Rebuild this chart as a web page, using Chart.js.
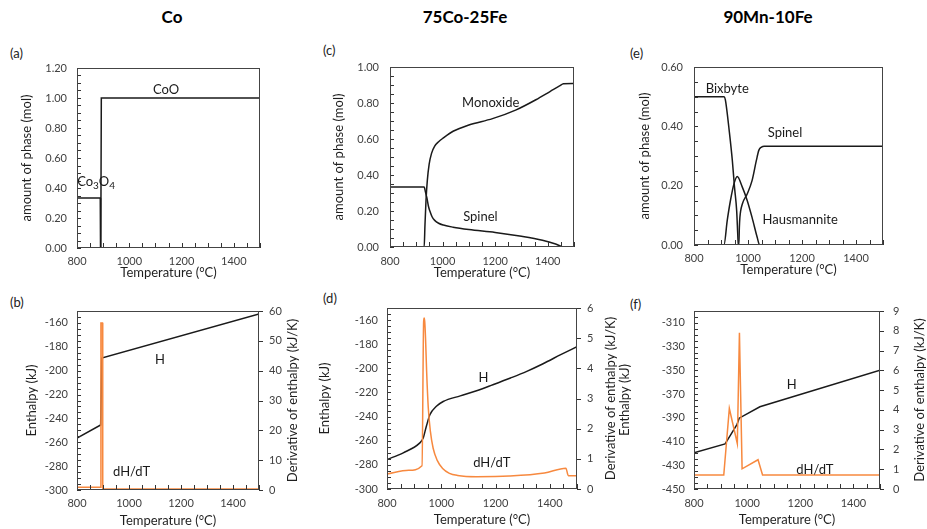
<!DOCTYPE html>
<html>
<head>
<meta charset="utf-8">
<script src="https://cdn.jsdelivr.net/npm/chart.js@4.4.1/dist/chart.umd.min.js"></script>
<style>
  body { margin: 0; background: #fff; width: 927px; height: 529px; position: relative; overflow: hidden; font-family: Lato, sans-serif; }
  canvas { position: absolute; }
  .title { position: absolute; font-weight: bold; font-size: 17px; line-height: 20px; color: #000; transform: translateX(-50%); white-space: nowrap; }
  .tag { position: absolute; font-size: 13px; line-height: 15px; color: #222; }
</style>
</head>
<body>
<div class="title" style="left:172px;top:7px">Co</div>
<div class="title" style="left:465px;top:7px">75Co-25Fe</div>
<div class="title" style="left:768px;top:7px">90Mn-10Fe</div>
<div class="tag" style="left:10px;top:46px">(a)</div>
<div class="tag" style="left:10px;top:295px">(b)</div>
<div class="tag" style="left:323px;top:43px">(c)</div>
<div class="tag" style="left:323px;top:291px">(d)</div>
<div class="tag" style="left:630px;top:46px">(e)</div>
<div class="tag" style="left:630px;top:297px">(f)</div>
<canvas id="pa"></canvas>
<canvas id="pb"></canvas>
<canvas id="pc"></canvas>
<canvas id="pd"></canvas>
<canvas id="pe"></canvas>
<canvas id="pf"></canvas>
<script>
// tick labels
const tempTicks = [800, 1000, 1200, 1400];
const molTicksA = [0, 0.2, 0.4, 0.6, 0.8, 1.0, 1.2];
const molTicksC = [0, 0.2, 0.4, 0.6, 0.8, 1.0];
const molTicksE = [0, 0.2, 0.4, 0.6];
const enthTicksB = [-300, -280, -260, -240, -220, -200, -180, -160];
const enthTicksD = [-300, -280, -260, -240, -220, -200, -180, -160];
const enthTicksF = [-450, -430, -410, -390, -370, -350, -330, -310];
const derivTicksB = [0, 10, 20, 30, 40, 50, 60];
const derivTicksD = [0, 1, 2, 3, 4, 5, 6];
const derivTicksF = [0, 1, 2, 3, 4, 5, 6, 7, 8, 9];

// (a) Co: amount of phase
const coCo3o4Temp = [800, 889, 890, 1500];
const coCo3o4Mol = [0.333, 0.333, 0, 0];
const coCoOTemp = [800, 891, 893, 1500];
const coCoOMol = [0, 0, 1.0, 1.0];

// (b) Co: enthalpy and derivative
const coHTemp = [800, 891, 895, 1500];
const coH = [-256.6, -245.5, -189.5, -152.5];
const coDTemp = [800, 891, 892, 898, 899, 1500];
const coD = [0.9, 0.9, 56, 56, 0.3, 0.3];

// (c) 75Co-25Fe: amount of phase
const cfMonoTemp = [800, 930, 933, 937, 942, 949, 958, 970, 985, 1003, 1040, 1100, 1190, 1280, 1355, 1410, 1445, 1460, 1500];
const cfMono = [0, 0, 0.12, 0.26, 0.37, 0.46, 0.52, 0.56, 0.585, 0.606, 0.643, 0.678, 0.713, 0.762, 0.818, 0.865, 0.895, 0.907, 0.909];
const cfSpinelTemp = [800, 930, 935, 940, 946, 952, 960, 970, 985, 1003, 1040, 1100, 1200, 1300, 1380, 1430, 1460, 1500];
const cfSpinel = [0.333, 0.333, 0.305, 0.275, 0.228, 0.198, 0.168, 0.148, 0.132, 0.122, 0.110, 0.097, 0.081, 0.060, 0.038, 0.017, 0, 0];

// (d) 75Co-25Fe: enthalpy and derivative
const cfHTemp = [800, 860, 920, 933, 945, 958, 982, 1007, 1070, 1130, 1190, 1255, 1315, 1375, 1440, 1500];
const cfH = [-275.5, -270, -262, -258, -248, -238.5, -231.5, -227.5, -222.8, -218.6, -213.6, -208, -202.5, -196.2, -188.7, -182];
const cfDTemp = [800, 880, 929, 935, 937, 939, 942, 946, 952, 960, 970, 985, 1005, 1030, 1060, 1130, 1250, 1380, 1459, 1468, 1500];
const cfD = [0.50, 0.62, 0.77, 5.55, 5.67, 5.55, 5.0, 3.9, 2.7, 1.9, 1.35, 0.95, 0.68, 0.52, 0.45, 0.41, 0.43, 0.53, 0.69, 0.44, 0.44];

// (e) 90Mn-10Fe: amount of phase
const mfBixTemp = [800, 912, 916, 921, 929, 942, 950, 958, 962, 964, 1500];
const mfBix = [0.5, 0.5, 0.49, 0.459, 0.397, 0.285, 0.195, 0.116, 0.037, 0, 0];
const mfHausTemp = [800, 911, 923, 935, 948, 960, 979, 997, 1015, 1034, 1043, 1500];
const mfHaus = [0, 0, 0.082, 0.15, 0.206, 0.231, 0.195, 0.15, 0.093, 0.026, 0, 0];
const mfSpinelTemp = [800, 966, 968, 970, 979, 997, 1015, 1031, 1040, 1050, 1060, 1500];
const mfSpinel = [0, 0, 0.06, 0.093, 0.138, 0.172, 0.217, 0.285, 0.319, 0.33, 0.333, 0.333];

// (f) 90Mn-10Fe: enthalpy and derivative
const mfHTemp = [800, 917, 935, 950, 962, 970, 1048, 1500];
const mfH = [-419.4, -412, -405.5, -400, -395.5, -390.3, -380.7, -350];
const mfDTemp = [800, 912, 933, 963, 971, 981, 1041, 1058, 1500];
const mfD = [0.71, 0.71, 4.07, 2.3, 7.9, 1.02, 1.48, 0.71, 0.71];

Chart.defaults.font.family = 'Lato, sans-serif';
Chart.defaults.color = '#404040';
Chart.defaults.animation = false;

const BLACK = '#1a1a1a';
const ORANGE = '#f7893f';

function pts(xs, ys) {
  return xs.map((x, i) => ({ x: x, y: ys[i] }));
}

function line(xs, ys, color, axis, smooth) {
  return {
    data: pts(xs, ys),
    borderColor: color,
    borderWidth: 1.5,
    pointRadius: 0,
    fill: false,
    yAxisID: axis || 'y',
    cubicInterpolationMode: smooth ? 'monotone' : 'default'
  };
}

// frame, inner ticks, in-plot labels and the right-hand axis title
const framePlugin = {
  id: 'frame',
  afterDraw(chart, args, o) {
    const { ctx, chartArea: a, scales } = chart;
    ctx.save();
    ctx.strokeStyle = '#333';
    ctx.lineWidth = 1;
    ctx.beginPath();
    const x = scales.x;
    for (let v = x.min; v <= x.max + 1e-6; v += o.xStep) {
      const px = Math.round(x.getPixelForValue(v)) + 0.5;
      ctx.moveTo(px, a.bottom);
      ctx.lineTo(px, a.bottom - 5);
    }
    const y = scales.y;
    for (let v = y.min; v <= y.max + 1e-6; v += o.yStep) {
      const py = Math.round(y.getPixelForValue(v)) + 0.5;
      ctx.moveTo(a.left, py);
      ctx.lineTo(a.left + 4, py);
    }
    if (scales.y2) {
      scales.y2.ticks.forEach(t => {
        const py = Math.round(scales.y2.getPixelForValue(t.value)) + 0.5;
        ctx.moveTo(a.right, py);
        ctx.lineTo(a.right + 4, py);
      });
    }
    ctx.stroke();
    ctx.strokeStyle = '#444';
    ctx.strokeRect(Math.round(a.left) + 0.5, Math.round(a.top) + 0.5, Math.round(a.width) - 1, Math.round(a.height) - 1);

    ctx.fillStyle = '#1a1a1a';
    ctx.textBaseline = 'middle';
    (o.labels || []).forEach(l => {
      const sc = scales[l.axis || 'y'];
      let px = x.getPixelForValue(l.x);
      const py = sc.getPixelForValue(l.y);
      if (l.parts) {
        let w = 0;
        l.parts.forEach(([t, sub]) => {
          ctx.font = (sub ? 10 : 13) + 'px Lato, sans-serif';
          w += ctx.measureText(t).width;
        });
        if (l.align !== 'left') px -= w / 2;
        ctx.textAlign = 'left';
        l.parts.forEach(([t, sub]) => {
          ctx.font = (sub ? 10 : 13) + 'px Lato, sans-serif';
          ctx.fillText(t, px, py + (sub ? 4 : 0));
          px += ctx.measureText(t).width;
        });
      } else {
        ctx.font = '13px Lato, sans-serif';
        ctx.textAlign = l.align || 'center';
        ctx.fillText(l.text, px, py);
      }
    });

    if (o.rightTitle) {
      ctx.font = '13px Lato, sans-serif';
      ctx.fillStyle = '#1f1f1f';
      ctx.textAlign = 'center';
      ctx.translate(o.rightTitle.x, (a.top + a.bottom) / 2);
      ctx.rotate(-Math.PI / 2);
      ctx.fillText(o.rightTitle.text, 0, 0);
    }
    ctx.restore();
  }
};

function makePanel(p) {
  const cv = document.getElementById(p.id);
  cv.width = p.w;
  cv.height = p.h;
  cv.style.left = p.left + 'px';
  cv.style.top = p.top + 'px';
  const al = p.area.l - p.left;
  const ar = p.area.r - p.left;
  const at = p.area.t - p.top;
  const ab = p.area.b - p.top;

  const scales = {
    x: {
      type: 'linear', min: 800, max: 1500,
      afterBuildTicks: s => { s.ticks = tempTicks.map(v => ({ value: v })); },
      afterFit: s => { s.height = p.h - ab; },
      grid: { display: false, drawTicks: false },
      border: { display: false },
      ticks: { padding: p.xTickPad, font: { size: 11 }, maxRotation: 0, autoSkip: false, callback: v => String(v) },
      title: { display: true, text: 'Temperature (°C)', color: '#1f1f1f', font: { size: 13 }, padding: { top: 0, bottom: p.xTitlePad } }
    },
    y: {
      type: 'linear', position: 'left', min: p.yMin, max: p.yMax,
      afterBuildTicks: s => { s.ticks = p.yTicks.map(v => ({ value: v })); },
      afterFit: s => { s.width = al; },
      grid: { display: false, drawTicks: false },
      border: { display: false },
      ticks: { padding: p.yTickPad, font: { size: 11 }, autoSkip: false, callback: p.yFmt },
      title: { display: true, text: p.yTitle, color: '#1f1f1f', font: { size: 13 }, padding: { top: p.yTitlePad, bottom: 0 } }
    }
  };
  if (p.y2Ticks) {
    scales.y2 = {
      type: 'linear', position: 'right', min: p.y2Min, max: p.y2Max,
      afterBuildTicks: s => { s.ticks = p.y2Ticks.map(v => ({ value: v })); },
      afterFit: s => { s.width = p.w - ar; },
      grid: { display: false, drawTicks: false },
      border: { display: false },
      ticks: { padding: p.y2TickPad, font: { size: 11 }, autoSkip: false, callback: v => String(v) }
    };
  }

  return new Chart(cv, {
    type: 'line',
    data: { datasets: p.datasets },
    options: {
      responsive: false,
      animation: false,
      layout: { padding: { top: at, left: 0, bottom: 0, right: p.y2Ticks ? 0 : p.w - ar } },
      scales: scales,
      plugins: {
        legend: { display: false },
        tooltip: { enabled: false },
        frame: {
          xStep: 50,
          yStep: p.yMinor,
          labels: p.labels,
          rightTitle: p.rTitleX ? { text: 'Derivative of enthalpy (kJ/K)', x: p.rTitleX - p.left } : null
        }
      }
    },
    plugins: [framePlugin]
  });
}

const fmt2 = v => Number(v).toFixed(2);
const fmt0 = v => String(v);

makePanel({
  id: 'pa', left: 0, top: 40, w: 310, h: 250, area: { l: 77, t: 68, r: 260, b: 248 },
  yTitle: 'amount of phase (mol)', yTitlePad: 19, yTickPad: 10, yTicks: molTicksA, yMin: 0, yMax: 1.2, yFmt: fmt2, yMinor: 0.05,
  xTickPad: 7, xTitlePad: 9,
  datasets: [
    line(coCo3o4Temp, coCo3o4Mol, BLACK),
    line(coCoOTemp, coCoOMol, BLACK)
  ],
  labels: [
    { text: 'CoO', x: 1141, y: 1.053 },
    { parts: [['Co', 0], ['3', 1], ['O', 0], ['4', 1]], x: 800.5, y: 0.44, align: 'left' }
  ]
});

makePanel({
  id: 'pb', left: 0, top: 290, w: 310, h: 239, area: { l: 77, t: 311, r: 259, b: 490 },
  yTitle: 'Enthalpy (kJ)', yTitlePad: 24, yTickPad: 9, yTicks: enthTicksB, yMin: -300, yMax: -150, yFmt: fmt0, yMinor: 5,
  y2Ticks: derivTicksB, y2Min: 0, y2Max: 60, y2TickPad: 10, rTitleX: 293,
  xTickPad: 7, xTitlePad: 0,
  datasets: [
    line(coDTemp, coD, ORANGE, 'y2'),
    line(coHTemp, coH, BLACK)
  ],
  labels: [
    { text: 'H', x: 1119, y: -191 },
    { text: 'dH/dT', x: 1010, y: -284.7 }
  ]
});

makePanel({
  id: 'pc', left: 310, top: 40, w: 310, h: 250, area: { l: 390, t: 67, r: 574, b: 247 },
  yTitle: 'amount of phase (mol)', yTitlePad: 21, yTickPad: 11, yTicks: molTicksC, yMin: 0, yMax: 1.0, yFmt: fmt2, yMinor: 0.05,
  xTickPad: 8, xTitlePad: 9,
  datasets: [
    line(cfMonoTemp, cfMono, BLACK, 'y', true),
    line(cfSpinelTemp, cfSpinel, BLACK, 'y', true)
  ],
  labels: [
    { text: 'Monoxide', x: 1183, y: 0.80 },
    { text: 'Spinel', x: 1144, y: 0.168 }
  ]
});

makePanel({
  id: 'pd', left: 310, top: 290, w: 310, h: 239, area: { l: 387, t: 308, r: 577, b: 489 },
  yTitle: 'Enthalpy (kJ)', yTitlePad: 7, yTickPad: 9, yTicks: enthTicksD, yMin: -300, yMax: -150, yFmt: fmt0, yMinor: 5,
  y2Ticks: derivTicksD, y2Min: 0, y2Max: 6, y2TickPad: 10, rTitleX: 611,
  xTickPad: 8, xTitlePad: 1,
  datasets: [
    line(cfDTemp, cfD, ORANGE, 'y2', true),
    line(cfHTemp, cfH, BLACK, 'y', true)
  ],
  labels: [
    { text: 'H', x: 1155, y: -207.5 },
    { text: 'dH/dT', x: 1186, y: -278.7 }
  ]
});

makePanel({
  id: 'pe', left: 620, top: 40, w: 307, h: 250, area: { l: 694, t: 67, r: 883, b: 245 },
  yTitle: 'amount of phase (mol)', yTitlePad: 17, yTickPad: 11, yTicks: molTicksE, yMin: 0, yMax: 0.6, yFmt: fmt2, yMinor: 0.05,
  xTickPad: 7, xTitlePad: 12,
  datasets: [
    line(mfBixTemp, mfBix, BLACK, 'y', true),
    line(mfHausTemp, mfHaus, BLACK, 'y', true),
    line(mfSpinelTemp, mfSpinel, BLACK, 'y', true)
  ],
  labels: [
    { text: 'Bixbyte', x: 923, y: 0.528 },
    { text: 'Spinel', x: 1137, y: 0.378 },
    { text: 'Hausmannite', x: 1193, y: 0.084 }
  ]
});

makePanel({
  id: 'pf', left: 612, top: 290, w: 315, h: 239, area: { l: 694, t: 311, r: 880, b: 489 },
  yTitle: 'Enthalpy (kJ)', yTitlePad: 5, yTickPad: 9, yTicks: enthTicksF, yMin: -450, yMax: -300, yFmt: fmt0, yMinor: 5,
  y2Ticks: derivTicksF, y2Min: 0, y2Max: 9, y2TickPad: 13, rTitleX: 920,
  xTickPad: 8, xTitlePad: 1,
  datasets: [
    line(mfDTemp, mfD, ORANGE, 'y2'),
    line(mfHTemp, mfH, BLACK)
  ],
  labels: [
    { text: 'H', x: 1168, y: -362.4 },
    { text: 'dH/dT', x: 1255, y: -434 }
  ]
});
</script>
</body>
</html>
